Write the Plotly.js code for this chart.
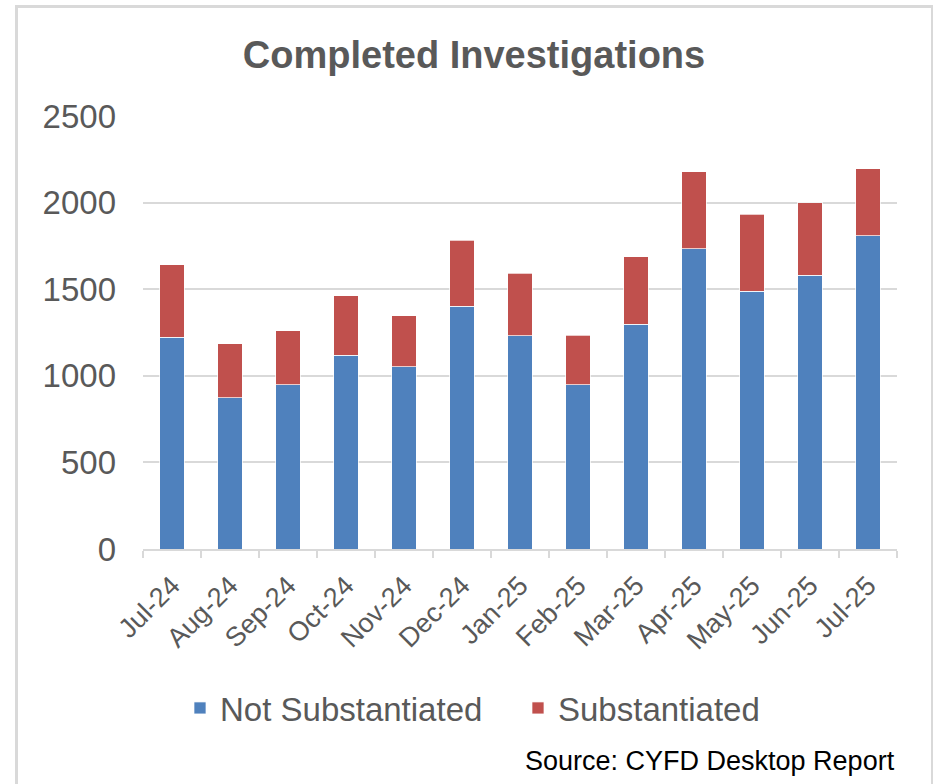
<!DOCTYPE html>
<html>
<head>
<meta charset="utf-8">
<script src="https://cdn.plot.ly/plotly-3.0.1.min.js"></script>
<style>
  body { margin: 0; background: #fff; }
  #wrap { position: relative; width: 934px; height: 784px; }
  #chart { width: 934px; height: 784px; }
  /* light frame round the chart, like the Excel chart area */
  #frame { position: absolute; left: 15px; top: 5px; width: 913px; height: 790px;
           border: 3px solid #D9D9D9; border-right-width: 2px; pointer-events: none; }
</style>
</head>
<body>
<div id="wrap">
  <div id="chart"></div>
  <div id="frame"></div>
</div>
<script>
// months on the x axis
const months = ['Jul-24', 'Aug-24', 'Sep-24', 'Oct-24', 'Nov-24', 'Dec-24', 'Jan-25',
                'Feb-25', 'Mar-25', 'Apr-25', 'May-25', 'Jun-25', 'Jul-25'];
const notSubstantiated = [1222, 872, 947, 1118, 1051, 1401, 1232, 947, 1299, 1734, 1488, 1582, 1809];
const substantiated    = [418, 314, 314, 343, 295, 381, 359, 287, 387, 444, 446, 417, 387];
const yTicks = [0, 500, 1000, 1500, 2000, 2500];

const gray = '#595959';
const font = 'Liberation Sans, Arial, sans-serif';

var trace1 = {
    x: months,
    y: notSubstantiated,
    type: 'bar',
    name: 'Not Substantiated',
    marker: { color: '#4F81BD', line: { color: 'rgba(255,255,255,0.7)', width: 1 } }
};
var trace2 = {
    x: months,
    y: substantiated,
    type: 'bar',
    name: 'Substantiated',
    marker: { color: '#C0504D', line: { color: 'rgba(255,255,255,0.7)', width: 1 } }
};

var layout = {
    width: 934,
    height: 784,
    barmode: 'stack',
    bargap: 0.58,
    margin: { l: 143, r: 37, t: 116, b: 235 },
    paper_bgcolor: '#fff',
    plot_bgcolor: '#fff',
    font: { family: font, color: gray },
    title: {
        text: '<b>Completed Investigations</b>',
        font: { family: font, size: 38, color: gray },
        x: 0.5075, xanchor: 'center',
        y: 1 - 55 / 784, yanchor: 'middle'
    },
    xaxis: {
        type: 'category',
        tickangle: -45,
        tickfont: { size: 27, color: gray },
        showline: true, linecolor: '#D9D9D9', linewidth: 2,
        ticks: 'outside', tickson: 'boundaries', ticklen: 7, tickcolor: '#D9D9D9', tickwidth: 2,
        ticklabelstandoff: 8,
        showgrid: false
    },
    yaxis: {
        range: [0, 2500],
        tickvals: yTicks,
        tickfont: { size: 33, color: gray },
        showgrid: true, gridcolor: '#D9D9D9', gridwidth: 2,
        zeroline: false, showline: false,
        ticklabelstandoff: 26
    },
    legend: {
        orientation: 'h',
        xref: 'container', yref: 'container',
        x: 0.5546, xanchor: 'center',
        y: 1 - 708 / 784, yanchor: 'middle',
        font: { size: 33, color: gray },
        entrywidth: 293,
        traceorder: 'normal'
    },
    annotations: [{
        text: 'Source: CYFD Desktop Report',
        xref: 'paper', yref: 'paper',
        x: 1, xanchor: 'right',
        y: -(762 - 549.5) / (549.5 - 116), yanchor: 'middle',
        showarrow: false,
        font: { family: font, size: 27, color: '#000' }
    }],
    showlegend: true
};

Plotly.newPlot('chart', [trace1, trace2], layout, { displayModeBar: false, staticPlot: true });
</script>
</body>
</html>
